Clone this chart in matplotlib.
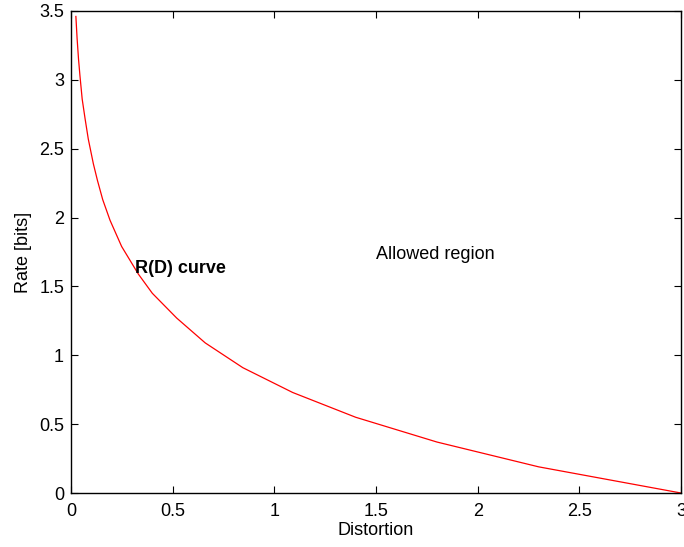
import numpy as np
import matplotlib.pyplot as plt

plt.rcParams['font.family'] = ['Liberation Sans', 'DejaVu Sans']

distortion = [0.024, 0.030, 0.037, 0.044, 0.055, 0.069, 0.085, 0.110, 0.130,
              0.156, 0.192, 0.249, 0.331, 0.40, 0.52, 0.66, 0.845, 1.09,
              1.40, 1.80, 2.30, 3.0]
rate = [3.46, 3.30, 3.15, 3.03, 2.86, 2.72, 2.57, 2.39, 2.27,
        2.13, 1.98, 1.79, 1.59, 1.45, 1.27, 1.09, 0.91, 0.73,
        0.55, 0.37, 0.19, 0.0]

xticks = [0, 0.5, 1, 1.5, 2, 2.5, 3]
yticks = [0, 0.5, 1, 1.5, 2, 2.5, 3, 3.5]

fig = plt.figure(figsize=(6.84, 5.47), dpi=100)
ax = fig.add_axes([0.1038, 0.0987, 0.8918, 0.8813])

ax.plot(distortion, rate, color='red', linewidth=0.9)
ax.set_xlim(0, 3)
ax.set_ylim(0, 3.5)
ax.set_xticks(xticks)
ax.set_yticks(yticks)
ax.set_xticklabels(['0', '0.5', '1', '1.5', '2', '2.5', '3'])
ax.set_yticklabels(['0', '0.5', '1', '1.5', '2', '2.5', '3', '3.5'])
ax.tick_params(direction='in', top=True, right=True, length=5, labelsize=13)
ax.tick_params(axis='x', pad=7.5)
ax.tick_params(axis='y', pad=5)
for s in ax.spines.values():
    s.set_linewidth(1.0)

ax.text(0.315, 1.63, 'R(D) curve', fontsize=13, fontweight='bold', va='center')
ax.text(1.50, 1.73, 'Allowed region', fontsize=13, va='center')

ax.set_xlabel('Distortion', fontsize=13, labelpad=1)
ax.set_ylabel('Rate [bits]', fontsize=13, labelpad=5)

fig.savefig('out.png', dpi=100)
